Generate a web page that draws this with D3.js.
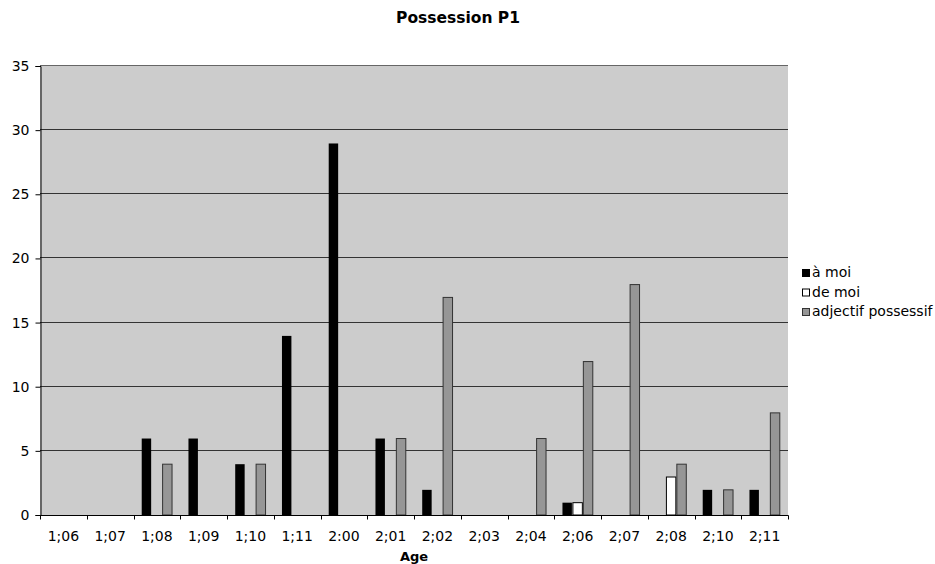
<!DOCTYPE html>
<html>
<head>
<meta charset="utf-8">
<script src="https://cdn.jsdelivr.net/npm/d3@7/dist/d3.min.js"></script>
<style>
  body { margin: 0; background: #fff; }
  svg { display: block; font-family: "DejaVu Sans", Verdana, sans-serif; }
</style>
</head>
<body>
<svg id="chart" width="935" height="564"></svg>
<script>
// Ages (years;months) along the x axis
const categories = ["1;06", "1;07", "1;08", "1;09", "1;10", "1;11", "2:00", "2;01",
                    "2;02", "2;03", "2;04", "2;06", "2;07", "2;08", "2;10", "2;11"];
const seriesNames = ["à moi", "de moi", "adjectif possessif"];
const aMoi       = [0, 0, 6, 6, 4, 14, 29, 6, 2, 0, 0, 1, 0, 0, 2, 2];
const deMoi      = [0, 0, 0, 0, 0, 0, 0, 0, 0, 0, 0, 1, 0, 3, 0, 0];
const adjectif   = [0, 0, 4, 0, 4, 0, 0, 6, 17, 0, 6, 12, 18, 4, 2, 8];
const yTicks     = [0, 5, 10, 15, 20, 25, 30, 35];

const seriesValues = [aMoi, deMoi, adjectif];
const fills   = ["#000000", "#ffffff", "#969696"];
const strokes = ["none", "#000000", "#333333"];

const svg = d3.select("#chart");
const plot = { left: 40, right: 788, top: 66, bottom: 515 };

const x0 = d3.scaleBand().domain(categories).range([plot.left, plot.right]).padding(0);
const bw = x0.bandwidth();
const gap = bw * 0.33;
const x1 = d3.scaleBand().domain(seriesNames).range([gap / 2, bw - gap / 2]).padding(0);
const y = d3.scaleLinear().domain([0, 35]).range([plot.bottom, plot.top]);

// plot background
svg.append("rect")
  .attr("x", plot.left).attr("y", plot.top)
  .attr("width", plot.right - plot.left).attr("height", plot.bottom - plot.top)
  .attr("fill", "#cccccc");

// horizontal gridlines
svg.append("g")
  .selectAll("line")
  .data(yTicks.filter(d => d > 0))
  .join("line")
  .attr("x1", plot.left).attr("x2", plot.right)
  .attr("y1", d => Math.round(y(d)) - 0.5).attr("y2", d => Math.round(y(d)) - 0.5)
  .attr("stroke", d => d === 35 ? "#666666" : "#333333")
  .attr("stroke-width", 1);

// bars
const rows = categories.map((c, i) => ({ cat: c, vals: seriesNames.map((s, k) => ({ s, k, v: seriesValues[k][i] })) }));
const groups = svg.append("g").selectAll("g")
  .data(rows).join("g")
  .attr("transform", d => `translate(${x0(d.cat)},0)`);
groups.selectAll("rect")
  .data(d => d.vals.filter(v => v.v > 0))
  .join("rect")
  .attr("x", d => x1(d.s) + 0.5)
  .attr("y", d => y(d.v) + 0.5)
  .attr("width", x1.bandwidth() - 1)
  .attr("height", d => y(0) - y(d.v) - 0.5)
  .attr("fill", d => fills[d.k])
  .attr("stroke", d => strokes[d.k])
  .attr("stroke-width", 1);

// y axis
const yAxis = svg.append("g")
  .attr("transform", `translate(${plot.left + 0.5},0)`)
  .call(d3.axisLeft(y).tickValues(yTicks).tickSize(5).tickPadding(6));
yAxis.select(".domain").attr("stroke", "#000");
yAxis.selectAll("text").attr("font-size", 14).attr("fill", "#000")
  .attr("font-family", "DejaVu Sans, Verdana, sans-serif");

// x axis with ticks at category boundaries
const xAxis = svg.append("g").attr("transform", `translate(0,${plot.bottom + 0.5})`);
xAxis.append("line").attr("x1", plot.left).attr("x2", plot.right + 0.5)
  .attr("stroke", "#000");
const boundaries = categories.map(c => x0(c)).concat([plot.right]);
xAxis.selectAll("line.tick")
  .data(boundaries).join("line").attr("class", "tick")
  .attr("x1", d => Math.round(d) + 0.5).attr("x2", d => Math.round(d) + 0.5)
  .attr("y1", 0).attr("y2", 4).attr("stroke", "#000");
xAxis.selectAll("text")
  .data(categories).join("text")
  .attr("x", d => x0(d) + bw / 2)
  .attr("y", 25)
  .attr("text-anchor", "middle")
  .attr("font-size", 14)
  .attr("fill", "#000")
  .text(d => d);

// titles
svg.append("text")
  .attr("x", 458).attr("y", 23)
  .attr("text-anchor", "middle")
  .attr("font-size", 15.5).attr("font-weight", "bold")
  .text("Possession P1");
svg.append("text")
  .attr("x", (plot.left + plot.right) / 2).attr("y", 561)
  .attr("text-anchor", "middle")
  .attr("font-size", 13).attr("font-weight", "bold")
  .text("Age");

// legend
const legend = svg.append("g").attr("transform", "translate(802,269)");
const li = legend.selectAll("g").data(seriesNames).join("g")
  .attr("transform", (d, i) => `translate(0,${i * 19.5})`);
li.append("rect")
  .attr("x", 0.5).attr("y", 0.5).attr("width", 7).attr("height", 7)
  .attr("fill", (d, i) => fills[i])
  .attr("stroke", (d, i) => i === 2 ? "#333" : "#000");
li.append("text")
  .attr("x", 10).attr("y", 8)
  .attr("font-size", 14).attr("fill", "#000")
  .text(d => d);
</script>
</body>
</html>
